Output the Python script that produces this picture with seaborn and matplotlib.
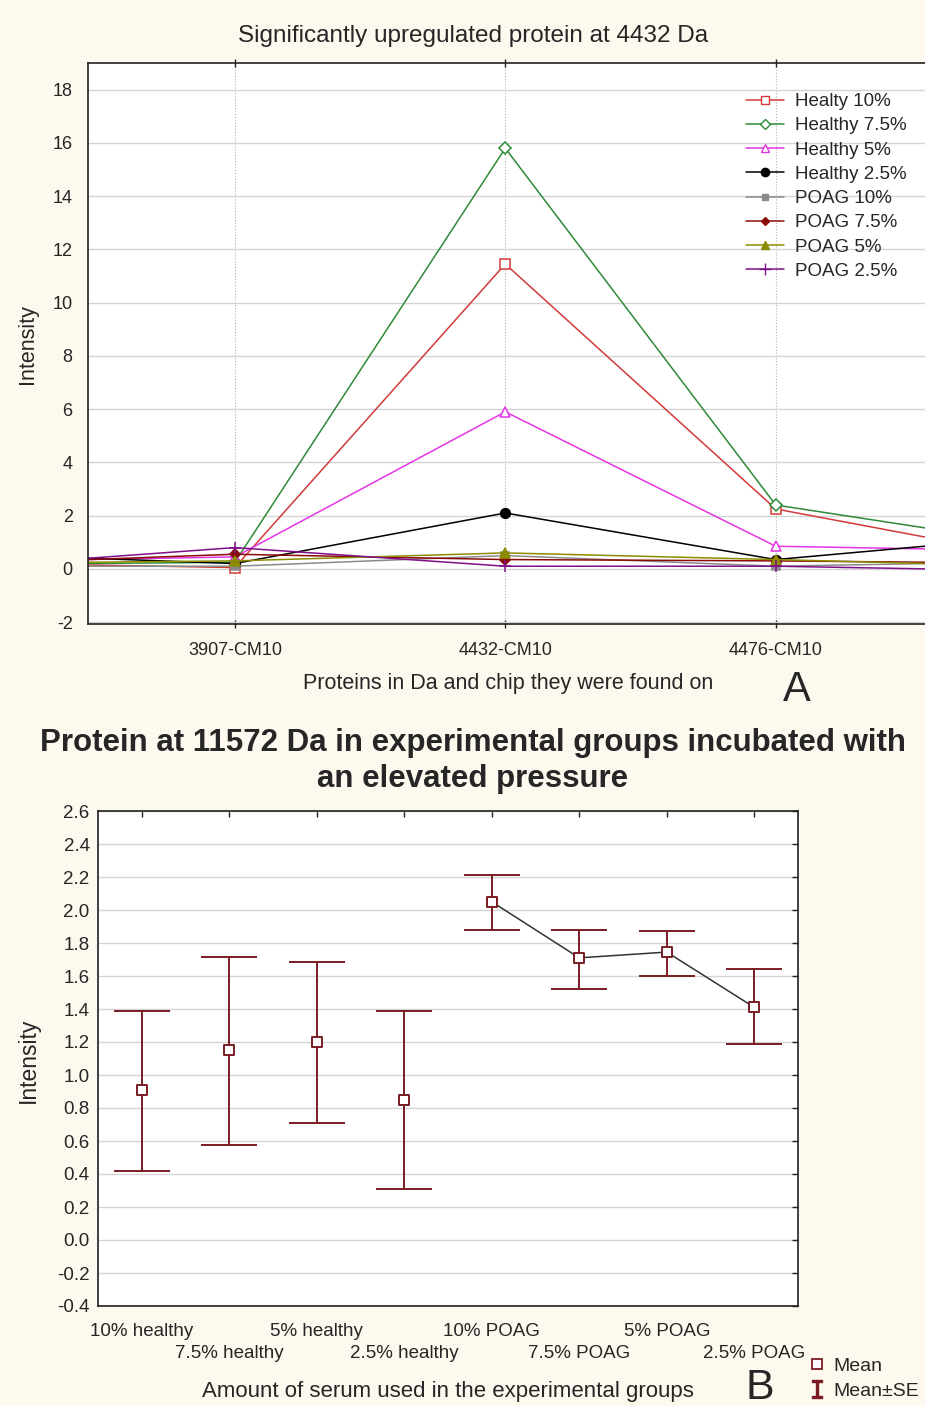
import matplotlib
matplotlib.use("Agg")
import matplotlib.pyplot as plt
from matplotlib.lines import Line2D
import seaborn as sns
import numpy as np

sns.set_theme(style="white")
plt.rcParams['font.family'] = ['Liberation Sans', 'DejaVu Sans']

# ---------------- Panel A data ----------------
# positions: off-chart left, 3907, 4432, 4476, off-chart right
a_categories = ["(left, cut off)", "3907-CM10", "4432-CM10", "4476-CM10", "(right, cut off)"]
a_series = ["Healty 10%", "Healthy 7.5%", "Healthy 5%", "Healthy 2.5%",
            "POAG 10%", "POAG 7.5%", "POAG 5%", "POAG 2.5%"]
healty_10 = [0.23, 0.05, 11.45, 2.25, 0.34]
healthy_7_5 = [0.16, 0.25, 15.8, 2.4, 0.84]
healthy_5 = [0.27, 0.45, 5.9, 0.85, 0.67]
healthy_2_5 = [0.57, 0.2, 2.1, 0.35, 1.26]
poag_10 = [0.1, 0.1, 0.5, 0.1, 0.28]
poag_7_5 = [0.18, 0.55, 0.35, 0.3, 0.21]
poag_5 = [0.21, 0.3, 0.6, 0.35, 0.08]
poag_2_5 = [0.06, 0.8, 0.1, 0.1, -0.08]
a_values = [healty_10, healthy_7_5, healthy_5, healthy_2_5,
            poag_10, poag_7_5, poag_5, poag_2_5]
a_yticks = [-2, 0, 2, 4, 6, 8, 10, 12, 14, 16, 18]

# ---------------- Panel B data ----------------
b_groups = ["10% healthy", "7.5% healthy", "5% healthy", "2.5% healthy",
            "10% POAG", "7.5% POAG", "5% POAG", "2.5% POAG"]
b_mean = [0.91, 1.15, 1.20, 0.85, 2.05, 1.71, 1.745, 1.41]
b_upper = [1.39, 1.715, 1.685, 1.39, 2.21, 1.88, 1.87, 1.64]
b_lower = [0.42, 0.575, 0.71, 0.31, 1.88, 1.52, 1.60, 1.19]
b_yticks = [-0.4, -0.2, 0.0, 0.2, 0.4, 0.6, 0.8, 1.0, 1.2, 1.4, 1.6, 1.8, 2.0, 2.2, 2.4, 2.6]

W, H = 925, 1406
BG = "#fdf9ef"
fig = plt.figure(figsize=(W / 100, H / 100), dpi=100, facecolor=BG)

def fx(px):
    return px / W

def fy(py):
    return 1 - py / H

narrow = ['Liberation Sans Narrow', 'Liberation Sans', 'DejaVu Sans']

# ---------------- Panel A ----------------
axA = fig.add_axes([fx(88), fy(624), fx(1193 - 88), (624 - 63) / H])
axA.set_facecolor("white")
styles = [
    dict(color="#d23a3a", marker="s", mfc="white", ms=7),
    dict(color="#2f8a37", marker="D", mfc="white", ms=6),
    dict(color="#e436e4", marker="^", mfc="white", ms=7),
    dict(color="black", marker="o", mfc="black", ms=7),
    dict(color="#8a8a8a", marker="s", mfc="#8a8a8a", ms=6),
    dict(color="#8b0a0a", marker="D", mfc="#8b0a0a", ms=5),
    dict(color="#8c8c00", marker="^", mfc="#8c8c00", ms=7),
    dict(color="#80108a", marker="+", mfc="#80108a", ms=9),
]
xpos = np.arange(len(a_categories)) - 1  # 3907 at 0
handles = []
for name, vals, st in zip(a_series, a_values, styles):
    sns.lineplot(x=xpos, y=vals, ax=axA, color=st["color"], marker=st["marker"],
                 markerfacecolor=st["mfc"], markeredgecolor=st["color"],
                 markersize=st["ms"], linewidth=1.1, markeredgewidth=1.1,
                 sort=False, legend=False)
    handles.append(Line2D([], [], color=st["color"], marker=st["marker"],
                          markerfacecolor=st["mfc"], markeredgecolor=st["color"],
                          markersize=st["ms"] - 1, linewidth=1.1, label=name))
axA.set_xlim(-0.543, 3.543)
axA.set_ylim(-2.07, 19.0)
axA.set_yticks(a_yticks)
axA.set_yticklabels([str(v) for v in a_yticks], family=narrow, fontsize=13)
axA.set_xticks([0, 1, 2])
axA.set_xticklabels(a_categories[1:4], family=narrow, fontsize=13)
axA.yaxis.grid(True, color="#d4d4d4", linewidth=1.0)
axA.xaxis.grid(True, color="#b0b0b0", linewidth=0.8, linestyle=":")
axA.set_axisbelow(True)
for s in axA.spines.values():
    s.set_color("#222222")
    s.set_linewidth(1.2)
axA.tick_params(axis="y", direction="out", length=3, width=1, color="#222222", pad=8)
axA.tick_params(axis="x", direction="inout", length=6, width=1, color="#222222",
                pad=10, top=True, bottom=True)
axA.set_xlabel("")
axA.set_ylabel("")
fig.text(fx(28), fy(344), "Intensity", rotation=90, ha="center", va="center",
         family=narrow, fontsize=15.5)
fig.text(fx(508), fy(684), "Proteins in Da and chip they were found on",
         ha="center", va="center", family=narrow, fontsize=15.5)
fig.text(fx(797), fy(690), "A", ha="center", va="center", fontsize=30,
         family=['Liberation Sans', 'DejaVu Sans'])
fig.text(fx(473), fy(36), "Significantly upregulated protein at 4432 Da",
         ha="center", va="center", family=narrow, fontsize=17.5)
leg = fig.legend(handles=handles, loc="upper left",
                 bbox_to_anchor=(fx(746), fy(93)), bbox_transform=fig.transFigure,
                 frameon=False, handlelength=2.0, handletextpad=0.6,
                 labelspacing=0.38, borderpad=0, borderaxespad=0,
                 prop={'family': ['Liberation Sans', 'DejaVu Sans'], 'size': 13.5})

# ---------------- Panel B ----------------
axB = fig.add_axes([fx(98), fy(1306), fx(798 - 98), (1306 - 811) / H])
axB.set_facecolor("white")
bx = np.arange(len(b_groups))
mean = np.array(b_mean)
err = np.vstack([mean - np.array(b_lower), np.array(b_upper) - mean])
ecol = "#7a1c24"
axB.errorbar(bx, mean, yerr=err, fmt="none", ecolor=ecol, elinewidth=1.4,
             capsize=20, capthick=1.4, zorder=3)
sns.lineplot(x=bx[4:], y=mean[4:], ax=axB, color="#333333", linewidth=1.1,
             sort=False, legend=False, zorder=4)
sns.scatterplot(x=bx, y=mean, ax=axB, marker="s", s=55, facecolor="white",
                edgecolor=ecol, linewidth=1.4, zorder=5, legend=False)
axB.set_xlim(-0.5, 7.5)
axB.set_ylim(-0.4, 2.6)
axB.set_yticks(b_yticks)
axB.set_yticklabels([f"{v:.1f}" for v in b_yticks], fontsize=13.5)
# staggered category labels: even on major ticks, odd on minor ticks (lower row)
axB.set_xticks(bx[0::2])
axB.set_xticklabels(b_groups[0::2], fontsize=13.5)
axB.set_xticks(bx[1::2], minor=True)
axB.set_xticklabels(b_groups[1::2], minor=True, fontsize=13.5)
axB.yaxis.grid(True, color="#d4d4d4", linewidth=1.0)
axB.xaxis.grid(False)
axB.set_axisbelow(True)
for s in axB.spines.values():
    s.set_color("#222222")
    s.set_linewidth(1.2)
axB.tick_params(axis="both", which="both", direction="in", length=4, width=1,
                color="#222222", top=True, right=True)
axB.tick_params(axis="y", pad=6)
axB.tick_params(axis="x", which="major", pad=12)
axB.tick_params(axis="x", which="minor", pad=28)
axB.set_xlabel("")
axB.set_ylabel("")
fig.text(fx(28), fy(1060), "Intensity", rotation=90, ha="center", va="center",
         fontsize=16.5)
fig.text(fx(448), fy(1391), "Amount of serum used in the experimental groups",
         ha="center", va="center", fontsize=16)
fig.text(fx(760), fy(1388), "B", ha="center", va="center", fontsize=31)
fig.text(fx(473), fy(761), "Protein at 11572 Da in experimental groups incubated with\nan elevated pressure",
         ha="center", va="center", fontsize=22.5, fontweight="bold", linespacing=1.3)
# legend for panel B
hB = [Line2D([], [], color=ecol, marker="s", linestyle="none", markerfacecolor="white",
             markersize=7, markeredgewidth=1.3, label="Mean"),
      Line2D([], [], color=ecol, marker="$\\mathtt{I}$", linestyle="none",
             markersize=13, label="Mean±SE")]
fig.legend(handles=hB, loc="upper left", bbox_to_anchor=(fx(808), fy(1357)),
           bbox_transform=fig.transFigure, frameon=False, fontsize=14,
           handlelength=0.9, handletextpad=0.4, labelspacing=0.4, borderpad=0,
           borderaxespad=0)

fig.savefig("out.png", dpi=100, facecolor=BG)
